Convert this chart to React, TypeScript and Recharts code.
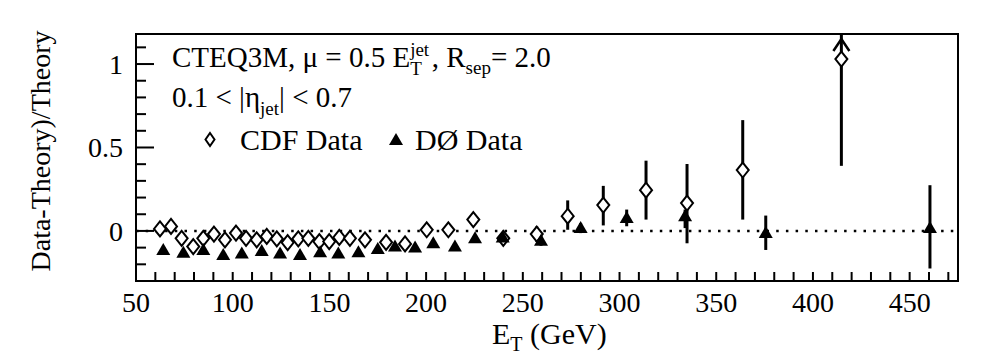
import React from 'react';
import { ScatterChart, Scatter, XAxis, YAxis, ErrorBar, ReferenceLine, ReferenceArea } from 'recharts';

// ---- data ----
const CDF_ET = [62.4, 68.1, 73.6, 79.6, 84.8, 90.3, 96.0, 101.7, 106.9, 112.4, 117.6, 122.8, 128.4, 133.9, 139.1, 144.8, 149.9, 155.1, 160.6, 168.4, 179.3, 189.1, 200.3, 211.5, 224.4, 239.9, 257.2, 273.2, 291.6, 313.7, 334.9, 363.7, 414.7];
const CDF_VAL = [0.012, 0.027, -0.044, -0.094, -0.044, -0.019, -0.053, -0.013, -0.044, -0.053, -0.033, -0.047, -0.07, -0.047, -0.044, -0.064, -0.064, -0.039, -0.044, -0.053, -0.068, -0.078, 0.007, 0.007, 0.068, -0.044, -0.019, 0.088, 0.155, 0.244, 0.167, 0.365, 1.03];
const CDF_ERR_LO = [0.01, 0.01, 0.01, 0.01, 0.01, 0.01, 0.01, 0.01, 0.01, 0.01, 0.01, 0.01, 0.01, 0.01, 0.01, 0.01, 0.01, 0.01, 0.01, 0.015, 0.015, 0.015, 0.02, 0.02, 0.025, 0.03, 0.046, 0.081, 0.122, 0.176, 0.241, 0.297, 0.64];
const CDF_ERR_HI = [0.01, 0.01, 0.01, 0.01, 0.01, 0.01, 0.01, 0.01, 0.01, 0.01, 0.01, 0.01, 0.01, 0.01, 0.01, 0.01, 0.01, 0.01, 0.01, 0.015, 0.015, 0.015, 0.02, 0.02, 0.025, 0.03, 0.046, 0.095, 0.115, 0.177, 0.234, 0.299, 0.15];

const D0_ET = [64.1, 74.5, 84.8, 95.1, 104.7, 115.0, 124.5, 134.8, 145.2, 154.6, 165.0, 175.0, 183.9, 194.3, 203.7, 214.9, 225.3, 239.6, 259.4, 279.9, 303.7, 333.9, 375.6, 460.5];
const D0_VAL = [-0.114, -0.13, -0.114, -0.144, -0.135, -0.12, -0.135, -0.144, -0.128, -0.135, -0.128, -0.108, -0.094, -0.1, -0.074, -0.094, -0.044, -0.039, -0.059, 0.017, 0.078, 0.088, -0.013, 0.017];
const D0_ERR_LO = [0.01, 0.01, 0.01, 0.01, 0.01, 0.01, 0.01, 0.01, 0.01, 0.01, 0.01, 0.01, 0.01, 0.01, 0.015, 0.015, 0.02, 0.03, 0.03, 0.03, 0.05, 0.071, 0.101, 0.242];
const D0_ERR_HI = [0.01, 0.01, 0.01, 0.01, 0.01, 0.01, 0.01, 0.01, 0.01, 0.01, 0.01, 0.01, 0.01, 0.01, 0.015, 0.015, 0.02, 0.03, 0.03, 0.03, 0.05, 0.04, 0.105, 0.257];

// upward arrow marking the point whose error runs off the top
const ARROW_ET = [414.7];
const ARROW_VAL = [1.15];

const X_DOMAIN: [number, number] = [50, 475];
const Y_DOMAIN: [number, number] = [-0.3, 1.18];
const X_TICKS = [50, 60, 70, 80, 90, 100, 110, 120, 130, 140, 150, 160, 170, 180, 190, 200, 210, 220, 230, 240, 250, 260, 270, 280, 290, 300, 310, 320, 330, 340, 350, 360, 370, 380, 390, 400, 410, 420, 430, 440, 450, 460, 470];
const X_LABELS = [50, 100, 150, 200, 250, 300, 350, 400, 450];
const Y_TICKS = [-0.3, -0.2, -0.1, 0, 0.1, 0.2, 0.3, 0.4, 0.5, 0.6, 0.7, 0.8, 0.9, 1.0, 1.1];
const Y_LABELS = [0, 0.5, 1];

// ---- layout ----
const W = 1007;
const H = 363;
const PLOT_LEFT = 136;
const PLOT_TOP = 34;
const PLOT_RIGHT = 958;
const PLOT_BOTTOM = 281;
const X_AXIS_H = 40;
const Y_AXIS_W = 40;
const FONT = '"Liberation Serif", "Times New Roman", serif';

const cdfData = CDF_ET.map((x, i) => ({ x, y: CDF_VAL[i], err: [CDF_ERR_LO[i], CDF_ERR_HI[i]] }));
const d0Data = D0_ET.map((x, i) => ({ x, y: D0_VAL[i], err: [D0_ERR_LO[i], D0_ERR_HI[i]] }));
const arrowData = ARROW_ET.map((x, i) => ({ x, y: ARROW_VAL[i] }));

const isLabel = (v: number, list: number[]) => list.some((l) => Math.abs(l - v) < 1e-6);

const XTick = (props: any) => {
  const { x, payload } = props;
  const v = payload.value;
  return (
    <g>
      <line x1={x} x2={x} y1={PLOT_BOTTOM} y2={PLOT_BOTTOM - 9} stroke="#000" strokeWidth={2} />
      {isLabel(v, X_LABELS) && (
        <text x={x} y={312} textAnchor="middle" fontFamily={FONT} fontSize={28} fill="#000">
          {v}
        </text>
      )}
    </g>
  );
};

const YTick = (props: any) => {
  const { y, payload } = props;
  const v = payload.value;
  const major = isLabel(v, Y_LABELS);
  return (
    <g>
      <line x1={PLOT_LEFT} x2={PLOT_LEFT + (major ? 18 : 10)} y1={y} y2={y} stroke="#000" strokeWidth={2} />
      {major && (
        <text x={123} y={y} dy={10} textAnchor="end" fontFamily={FONT} fontSize={28} fill="#000">
          {v}
        </text>
      )}
    </g>
  );
};

const Diamond = (props: any) => {
  const { cx, cy } = props;
  if (cx == null || cy == null) return null;
  return (
    <polygon
      points={`${cx},${cy - 7.5} ${cx + 6},${cy} ${cx},${cy + 7.5} ${cx - 6},${cy}`}
      fill="#fff"
      stroke="#000"
      strokeWidth={2}
    />
  );
};

const Triangle = (props: any) => {
  const { cx, cy } = props;
  if (cx == null || cy == null) return null;
  return <polygon points={`${cx},${cy - 7} ${cx + 7},${cy + 5} ${cx - 7},${cy + 5}`} fill="#000" />;
};

const Arrow = (props: any) => {
  const { cx, cy } = props;
  if (cx == null || cy == null) return null;
  return (
    <polyline
      points={`${cx - 8},${cy + 12} ${cx},${cy} ${cx + 8},${cy + 12}`}
      fill="none"
      stroke="#000"
      strokeWidth={2.5}
    />
  );
};

export default function App() {
  return (
    <div style={{ position: 'absolute', left: 0, top: 0, width: W, height: H, background: '#fff' }}>
      <ScatterChart
        width={W}
        height={H}
        margin={{
          top: PLOT_TOP,
          right: W - PLOT_RIGHT,
          bottom: H - PLOT_BOTTOM - X_AXIS_H,
          left: PLOT_LEFT - Y_AXIS_W,
        }}
      >
        <XAxis
          dataKey="x"
          type="number"
          domain={X_DOMAIN}
          ticks={X_TICKS}
          interval={0}
          allowDataOverflow
          height={X_AXIS_H}
          tickLine={false}
          tick={<XTick />}
          axisLine={false}
        />
        <YAxis
          dataKey="y"
          type="number"
          domain={Y_DOMAIN}
          ticks={Y_TICKS}
          interval={0}
          allowDataOverflow
          width={Y_AXIS_W}
          tickLine={false}
          tick={<YTick />}
          axisLine={false}
        />
        <ReferenceArea
          x1={X_DOMAIN[0]}
          x2={X_DOMAIN[1]}
          y1={Y_DOMAIN[0]}
          y2={Y_DOMAIN[1]}
          fill="none"
          fillOpacity={0}
          stroke="#000"
          strokeWidth={2}
        />
        <ReferenceLine y={0} stroke="#000" strokeWidth={2.5} strokeDasharray="2.5 7.2" />
        <Scatter data={cdfData} shape={<Diamond />} isAnimationActive={false}>
          <ErrorBar dataKey="err" direction="y" width={0} stroke="#000" strokeWidth={3} isAnimationActive={false} />
        </Scatter>
        <Scatter data={arrowData} shape={<Arrow />} isAnimationActive={false} />
        <Scatter data={d0Data} shape={<Triangle />} isAnimationActive={false}>
          <ErrorBar dataKey="err" direction="y" width={0} stroke="#000" strokeWidth={3} isAnimationActive={false} />
        </Scatter>
      </ScatterChart>
      <svg
        width={W}
        height={H}
        style={{ position: 'absolute', left: 0, top: 0, pointerEvents: 'none' }}
        fontFamily={FONT}
        fill="#000"
      >
        <text x={40} y={151} transform="rotate(-90, 40, 151)" textAnchor="middle" dominantBaseline="central" fontSize={28}>
          Data-Theory)/Theory
        </text>
        <text x={492} y={344} fontSize={30}>
          E<tspan dy={7} fontSize={20}>T</tspan>
          <tspan dy={-7}> (GeV)</tspan>
        </text>
        <text x={172} y={67} fontSize={29}>
          CTEQ3M, μ = 0.5 E
          <tspan fontSize={19} dy={-11}>jet</tspan>
          <tspan fontSize={19} dx={-19} dy={19}>T</tspan>
          <tspan fontSize={29} dx={10} dy={-8}>, R</tspan>
          <tspan fontSize={19} dy={7}>sep</tspan>
          <tspan fontSize={29} dy={-7}>= 2.0</tspan>
        </text>
        <text x={172} y={107} fontSize={29}>
          0.1 &lt; |η<tspan fontSize={19} dy={8}>jet</tspan>
          <tspan fontSize={29} dy={-8}>| &lt; 0.7</tspan>
        </text>
        <polygon points="210,133 214.5,139.5 210,146 205.5,139.5" fill="#fff" stroke="#000" strokeWidth={2} />
        <text x={240} y={150} fontSize={30}>CDF Data</text>
        <polygon points="396,133 403,145 389,145" fill="#000" />
        <text x={415} y={150} fontSize={30}>DØ Data</text>
      </svg>
    </div>
  );
}
